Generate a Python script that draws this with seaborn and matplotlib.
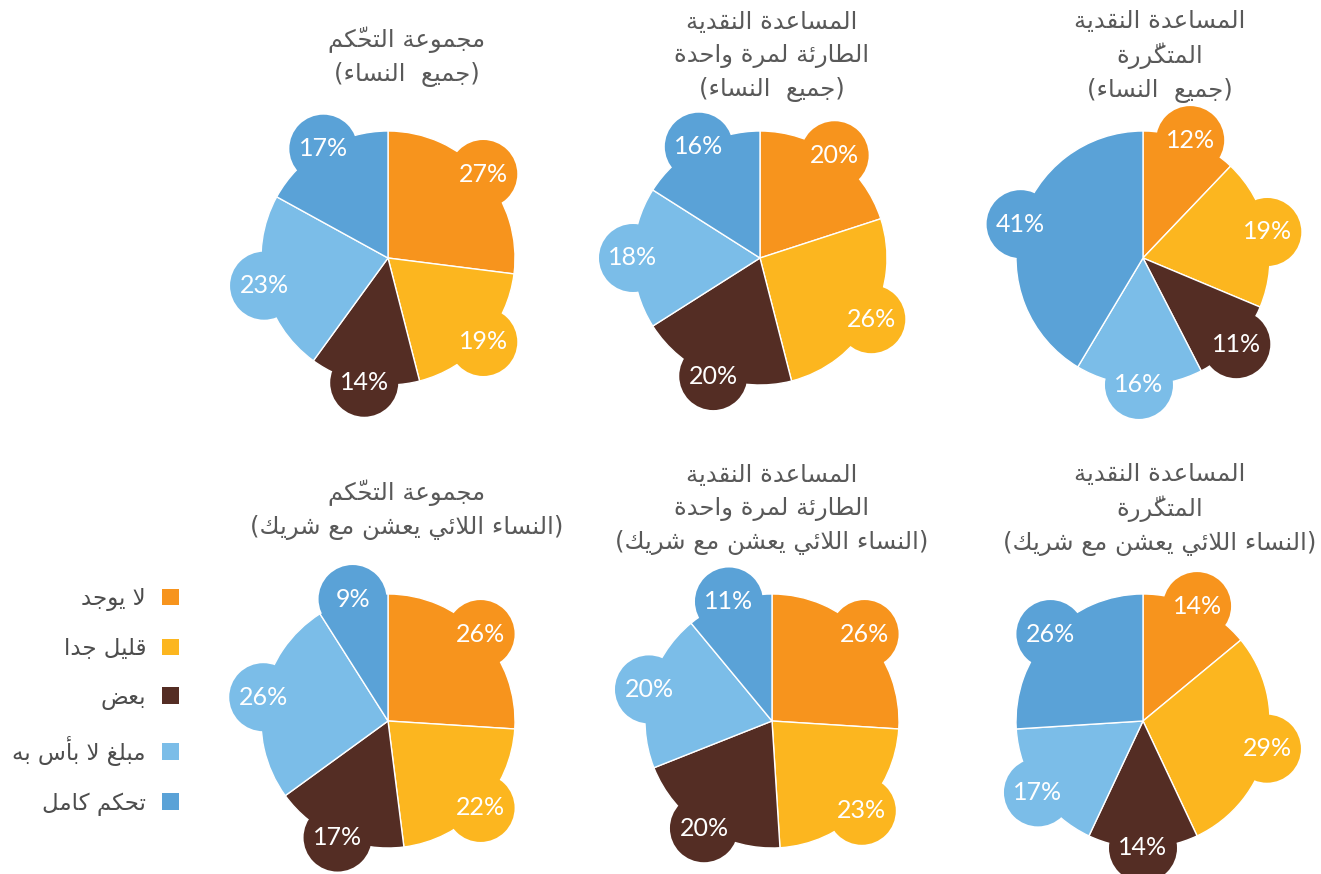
import matplotlib
matplotlib.use("Agg")
import matplotlib.pyplot as plt
import seaborn as sns
import numpy as np
from matplotlib.patches import Circle, Patch

# categories (legend) and colours
categories = ["لا يوجد", "قليل جدا", "بعض", "مبلغ لا بأس به", "تحكم كامل"]
colors = ["#F7941D", "#FCB61F", "#542D24", "#7BBDE8", "#5AA2D7"]

# shares in percent, clockwise from 12 o'clock, same order as categories
control_all = [27, 19, 14, 23, 17]
oneoff_all = [20, 26, 20, 18, 16]
recurring_all = [12, 19, 11, 16, 41]
control_partner = [26, 22, 17, 26, 9]
oneoff_partner = [26, 23, 20, 20, 11]
recurring_partner = [14, 29, 14, 17, 26]

title_control = "مجموعة التحكّم"
title_oneoff = "المساعدة النقدية\nالطارئة لمرة واحدة"
title_recurring = "المساعدة النقدية\nالمتكرّرة"
sub_all = "(جميع  النساء)"
sub_partner = "(النساء اللائي يعشن مع شريك)"

panels = [
    (control_all, title_control, sub_all),
    (oneoff_all, title_oneoff, sub_all),
    (recurring_all, title_recurring, sub_all),
    (control_partner, title_control, sub_partner),
    (oneoff_partner, title_oneoff, sub_partner),
    (recurring_partner, title_recurring, sub_partner),
]

# ---- minimal Arabic shaping (matplotlib has no text shaping) ----
LETTERS = "ءآأؤإئابةتثجحخدذرزسشصضطظعغفقكلمنهوىي"
NFORMS = [1, 2, 2, 2, 2, 4, 2, 4, 2, 4, 4, 4, 4, 4, 2, 2, 2, 2,
          4, 4, 4, 4, 4, 4, 4, 4, 4, 4, 4, 4, 4, 4, 4, 2, 2, 4]
FORMS = {}
code = 0xFE80
for ch, n in zip(LETTERS, NFORMS):
    FORMS[ch] = (code, n)
    code += n
for alef, lig in zip("آأإا", (0xFEF5, 0xFEF7, 0xFEF9, 0xFEFB)):
    FORMS["ل" + alef] = (lig, 2)


def shape_line(text):
    units = []
    i = 0
    while i < len(text):
        ch = text[i]
        if ch == "ل" and text[i + 1:i + 2] in ("ا", "أ", "إ", "آ"):
            ch = text[i:i + 2]
            i += 1
        i += 1
        if len(ch) == 1 and "\u064b" <= ch <= "\u0652" and units:
            units[-1][1] += ch
        else:
            units.append([ch, ""])

    def kind(k):
        if 0 <= k < len(units):
            return FORMS.get(units[k][0], (0, 0))[1]
        return 0

    out = []
    for k, (ch, marks) in enumerate(units):
        if ch not in FORMS:
            out.append({"(": ")", ")": "("}.get(ch, ch) + marks)
            continue
        base, n = FORMS[ch]
        j_prev = kind(k - 1) == 4 and n >= 2
        j_next = n == 4 and kind(k + 1) >= 2
        if j_prev and j_next:
            form = base + 3
        elif j_next:
            form = base + 2
        elif j_prev:
            form = base + 1
        else:
            form = base
        out.append(chr(form) + marks)
    return "".join(reversed(out))


def ar(text):
    return "\n".join(shape_line(t) for t in text.split("\n"))


sns.set_theme(style="white")
plt.rcParams["font.family"] = ["DejaVu Sans"]

W, H = 1321, 874
fig = plt.figure(figsize=(W / 100, H / 100), dpi=100)
ax = fig.add_axes([0, 0, 1, 1])

pie_centers = [(388, 258), (760, 258), (1143, 258),
               (388, 721), (772, 721), (1143, 721)]
title_pos = [(407, 57), (772, 56), (1160, 56),
             (407, 510), (772, 509), (1160, 509)]
R = 127
bubble_r = 34

for (vals, title, sub), (cx, cy), (tx, ty) in zip(panels, pie_centers, title_pos):
    center = (cx, H - cy)
    total = sum(vals)
    wedges, _, texts = ax.pie(
        vals, colors=colors, startangle=90, counterclock=False,
        radius=R, center=center, pctdistance=1.0,
        autopct=lambda p, t=total: f"{round(p * t / 100)}%",
        wedgeprops=dict(edgecolor="white", linewidth=1.0),
        textprops=dict(color="white", fontsize=18, family="Lato"))
    for w in wedges:
        mid = np.deg2rad((w.theta1 + w.theta2) / 2)
        ax.add_patch(Circle((center[0] + R * np.cos(mid),
                             center[1] + R * np.sin(mid)),
                            bubble_r, facecolor=w.get_facecolor(),
                            edgecolor="none", zorder=2))
    for t in texts:
        t.set_zorder(4)
    ax.text(tx, H - ty, ar(title + "\n" + sub), ha="center", va="center",
            ma="center", fontsize=17.5, color="#595959", linespacing=1.47)

ax.set_xlim(0, W)
ax.set_ylim(0, H)
ax.set_aspect("equal")
ax.axis("off")

handles = [Patch(facecolor=c, edgecolor="none") for c in colors]
ax.legend(handles, [ar(c) for c in categories], markerfirst=False,
          frameon=False, loc="upper right", borderpad=0, borderaxespad=0,
          bbox_to_anchor=(179 / W, 1 - 587 / H), bbox_transform=fig.transFigure,
          fontsize=16.5, labelcolor="#4d4d4d", handlelength=0.74,
          handleheight=0.74, handletextpad=0.7, labelspacing=1.13)

fig.savefig("out.png", dpi=100)
